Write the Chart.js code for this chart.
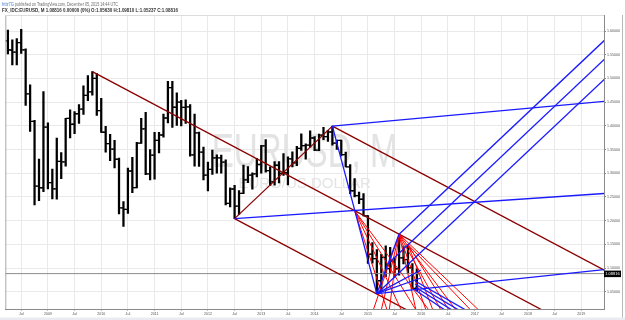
<!DOCTYPE html>
<html><head><meta charset="utf-8">
<script src="https://cdn.jsdelivr.net/npm/chart.js@4.4.1/dist/chart.umd.min.js"></script>
<style>html,body{margin:0;padding:0;background:#fff;overflow:hidden}canvas{display:block}</style>
</head><body>
<canvas id="c" width="625" height="320"></canvas>
<script>
// months counted from Jan 2008 = 0; first bar = Apr 2008
const firstBarMonth = 3;
const opens = [
 1.5790,1.5600,1.5553,1.5757,1.5602,1.4672,1.4092,1.2728,1.2693,
 1.3971,1.2800,1.2669,1.3248,1.3239,1.4155,1.4033,1.4255,1.4353,1.4641,1.4718,1.4999,
 1.4321,1.3864,1.3625,1.3510,1.3295,1.2268,1.2236,1.3047,1.2696,1.3634,1.3937,1.2984,
 1.3383,1.3692,1.3806,1.4165,1.4806,1.4392,1.4501,1.4391,1.4398,1.3387,1.3850,1.3446,
 1.2960,1.3080,1.3323,1.3322,1.3235,1.2365,1.2667,1.2304,1.2575,1.2859,1.2958,1.2985,
 1.3184,1.3578,1.3056,1.2818,1.3168,1.2997,1.3010,1.3302,1.3219,1.3525,1.3583,1.3593,
 1.3743,1.3486,1.3802,1.3772,1.3869,1.3633,1.3692,1.3390,1.3133,1.2630,1.2526,1.2451,
 1.2098,1.1290,1.1196,1.0731,1.1224,1.0987,1.1146,1.0984,1.1213,1.1177,1.1002,1.0563];
const highs = [
 1.6019,1.5816,1.5843,1.6038,1.5624,1.4867,1.4117,1.3300,1.4720,
 1.4063,1.3087,1.3739,1.3434,1.4156,1.4338,1.4301,1.4450,1.4844,1.5061,1.5144,1.5104,
 1.4579,1.3989,1.3818,1.3692,1.3321,1.2400,1.3106,1.3334,1.3650,1.4157,1.4282,1.3500,
 1.3860,1.3862,1.4249,1.4940,1.4939,1.4698,1.4540,1.4549,1.4448,1.4248,1.3868,1.3549,
 1.3233,1.3487,1.3386,1.3384,1.3284,1.2693,1.2744,1.2636,1.3173,1.3140,1.3010,1.3308,
 1.3586,1.3711,1.3134,1.3243,1.3243,1.3416,1.3346,1.3453,1.3568,1.3832,1.3620,1.3893,
 1.3775,1.3825,1.3967,1.3907,1.3993,1.3700,1.3700,1.3444,1.3184,1.2887,1.2600,1.2571,
 1.2105,1.1534,1.1387,1.1290,1.1467,1.1436,1.1216,1.1714,1.1460,1.1495,1.1095,1.0981];
const lows = [
 1.5516,1.5285,1.5285,1.5530,1.4432,1.3881,1.2330,1.2422,1.2611,
 1.2667,1.2457,1.2454,1.2885,1.3151,1.3746,1.3833,1.4048,1.4239,1.4532,1.4648,1.4218,
 1.3862,1.3443,1.3267,1.3114,1.2143,1.1876,1.2152,1.2588,1.2690,1.3627,1.2969,1.2860,
 1.2873,1.3430,1.3760,1.4059,1.3968,1.4010,1.4000,1.4053,1.3362,1.3146,1.3145,1.2856,
 1.2624,1.2975,1.3001,1.3000,1.2333,1.2287,1.2042,1.2132,1.2566,1.2802,1.2661,1.2923,
 1.3000,1.3021,1.2745,1.2750,1.2796,1.2951,1.2755,1.3135,1.3160,1.3482,1.3295,1.3549,
 1.3477,1.3478,1.3705,1.3673,1.3594,1.3503,1.3366,1.3131,1.2570,1.2500,1.2357,1.2097,
 1.1098,1.1100,1.0458,1.0520,1.0819,1.0886,1.0808,1.0847,1.1087,1.0896,1.0562,1.05237];
const closes = [
 1.5600,1.5553,1.5757,1.5602,1.4672,1.4092,1.2728,1.2693,1.3971,
 1.2800,1.2669,1.3248,1.3239,1.4155,1.4033,1.4255,1.4353,1.4641,1.4718,1.4999,1.4321,
 1.3864,1.3625,1.3510,1.3295,1.2268,1.2236,1.3047,1.2696,1.3634,1.3937,1.2984,1.3383,
 1.3692,1.3806,1.4165,1.4806,1.4392,1.4501,1.4391,1.4398,1.3387,1.3850,1.3446,1.2960,
 1.3080,1.3323,1.3322,1.3235,1.2365,1.2667,1.2304,1.2575,1.2859,1.2958,1.2985,1.3184,
 1.3578,1.3056,1.2818,1.3168,1.2997,1.3010,1.3302,1.3219,1.3525,1.3583,1.3593,1.3743,
 1.3486,1.3802,1.3772,1.3869,1.3633,1.3692,1.3390,1.3133,1.2630,1.2526,1.2451,1.2098,
 1.1290,1.1196,1.0731,1.1224,1.0987,1.1146,1.0984,1.1213,1.1177,1.1002,1.0567,1.08816];

const yTicks = [1.05,1.10,1.15,1.20,1.25,1.30,1.35,1.40,1.45,1.50,1.55,1.60];
const xTickMonths = [6,12,18,24,30,36,42,48,54,60,66,72,78,84,90,96,102,108,114,120,126,132];
const xTickLabels = ['Jul','2009','Jul','2010','Jul','2011','Jul','2012','Jul','2013','Jul','2014','Jul','2015','Jul','2016','Jul','2017','Jul','2018','Jul','2019'];
const lastPrice = 1.08816;

// drawn lines: [month1, price1, month2, price2]
const darkRedLines = [
 [22,1.5144,124,1.0074],
 [76,1.3993,137.5,1.0936],
 [54,1.2042,93,1.0103],
 [54,1.2042,76,1.3993]];
const blueLines = [
 [54,1.2042,137.5,1.2575],
 [76,1.3993,137.5,1.452],
 [76,1.3993,86,1.0458],
 [86,1.0458,91,1.1714],
 [91,1.1714,137.5,1.5830],
 [88.5,1.1090,137.5,1.5430],
 [86,1.0458,137.5,1.5010],
 [86,1.0458,137.5,1.097],
 [86,1.0458,95.9,1.0958],
 [86,1.0458,95.9,1.0789],
 [94.6,1.0726,106.0,1.0114],
 [94.6,1.0662,104.4,1.0114],
 [94.6,1.0599,102.9,1.0114],
 [94.6,1.0536,101.3,1.0114]];
const redLines = [
 [81,1.221,88.3,1.0114],[81,1.221,91.5,1.0114],[81,1.221,94.8,1.0114],[81,1.221,97.7,1.0114],
 [91,1.1714,94.8,1.0114],[91,1.1714,97.05,1.0114],[91,1.1714,100.4,1.0114],[91,1.1714,103.8,1.0114],[91,1.1714,108.9,1.0114],
 [91,1.1714,85.2,1.0114],[91,1.1714,87.0,1.0114],[91,1.1714,88.8,1.0114],
 [93,1.1495,98.6,1.0114],[93,1.1495,102.2,1.0114],[93,1.1495,107.1,1.0114]];

const header1a = 'fritz7G';
const header1b = ' published on TradingView.com, December 05, 2015 14:44 UTC';
const header2 = 'FX_IDC:EURUSD, M 1.08816 0.00000 (0%) O:1.05630 H:1.09810 L:1.05237 C:1.08816';
const watermark1 = 'EURUSD, M';
const watermark2 = 'EURO/US DOLLAR';

const FONT = "'Liberation Sans', Arial, sans-serif";
const months = opens.map((_, i) => firstBarMonth + i);

function segs(list, color, width, order) {
  return list.map(s => ({
    type: 'line',
    data: [{x: s[0], y: s[1]}, {x: s[2], y: s[3]}],
    borderColor: color, borderWidth: width, pointRadius: 0,
    fill: false, tension: 0, clip: 0, order
  }));
}

const datasets = [
  { type: 'bar', data: months.map((m, i) => ({x: m, y: [lows[i], highs[i]]})),
    backgroundColor: '#000', borderWidth: 0, barThickness: 1.6, order: 10, clip: 0 },
  { type: 'scatter', data: months.map((m, i) => ({x: m - 0.3, y: opens[i]})),
    pointStyle: 'line', pointRadius: 1.3, borderWidth: 1.3, borderColor: '#000', order: 9 },
  { type: 'scatter', data: months.map((m, i) => ({x: m + 0.3, y: closes[i]})),
    pointStyle: 'line', pointRadius: 1.3, borderWidth: 1.3, borderColor: '#000', order: 9 },
  { type: 'line', data: [{x: 0, y: lastPrice}, {x: 140, y: lastPrice}],
    borderColor: '#8c8c8c', borderWidth: 1, pointRadius: 0, clip: 0, order: 8 },
  ...segs(darkRedLines, '#8b0000', 1.3, 3),
  ...segs(redLines, '#ff0000', 1, 2),
  ...segs(blueLines, '#1a1aff', 1.3, 1)
];

const decor = {
  id: 'decor',
  beforeDraw(chart) {
    const ctx = chart.ctx;
    ctx.save();
    ctx.fillStyle = '#fff';
    ctx.fillRect(0, 0, chart.width, chart.height);
    ctx.restore();
  },
  beforeDatasetsDraw(chart) {
    const {ctx, chartArea: a} = chart;
    const cx = a.left + a.width / 2, cy = a.top + a.height / 2;
    ctx.save();
    ctx.fillStyle = '#e3e3e3';
    ctx.textAlign = 'center';
    ctx.textBaseline = 'alphabetic';
    ctx.font = '48px ' + FONT;
    ctx.fillText(watermark1, cx, cy + 5, 186);
    ctx.font = '15px ' + FONT;
    ctx.fillText(watermark2, cx, cy + 26, 155);
    ctx.restore();
  },
  afterDraw(chart) {
    const {ctx, chartArea: a} = chart;
    ctx.save();
    // left / top plot border
    ctx.strokeStyle = '#a8a8a8';
    ctx.lineWidth = 1;
    ctx.beginPath();
    ctx.moveTo(a.left + 0.5, a.top); ctx.lineTo(a.left + 0.5, a.bottom);
    ctx.stroke();
    ctx.strokeStyle = '#dcdcdc';
    ctx.beginPath();
    ctx.moveTo(a.left, a.top + 0.5); ctx.lineTo(a.right, a.top + 0.5);
    ctx.stroke();
    // outer frame
    ctx.fillStyle = '#e8ecf0';
    ctx.fillRect(0, chart.height - 2.5, chart.width, 2.5);
    ctx.strokeStyle = '#b8b8b8';
    ctx.beginPath();
    ctx.moveTo(chart.width - 2.5, a.top); ctx.lineTo(chart.width - 2.5, chart.height - 2.5);
    ctx.stroke();
    // header
    ctx.textAlign = 'left';
    ctx.textBaseline = 'alphabetic';
    ctx.font = '5px ' + FONT;
    ctx.fillStyle = '#3c7dd0';
    ctx.fillText(header1a, 2, 6.3, 12);
    ctx.fillStyle = '#6a6a6a';
    ctx.fillText(header1b, 14, 6.3, 104);
    ctx.font = 'bold 5px ' + FONT;
    ctx.fillStyle = '#333';
    ctx.fillText(header2, 2, 12.2, 176);
    // last price label
    const py = chart.scales.y.getPixelForValue(lastPrice);
    ctx.fillStyle = '#000';
    ctx.fillRect(a.right, py - 3, 17, 6.5);
    ctx.fillStyle = '#fff';
    ctx.font = '4px ' + FONT;
    ctx.textBaseline = 'middle';
    ctx.textAlign = 'center';
    ctx.fillText(lastPrice.toFixed(5), a.right + 8.5, py + 0.3, 15);
    ctx.restore();
  }
};

new Chart(document.getElementById('c'), {
  type: 'bar',
  data: { datasets },
  plugins: [decor],
  options: {
    responsive: false,
    animation: false,
    events: [],
    layout: { padding: { left: 2, top: 15, right: 0, bottom: 0 } },
    plugins: { legend: { display: false }, tooltip: { enabled: false }, title: { display: false } },
    scales: {
      x: {
        type: 'linear', min: 2.42, max: 137.1, offset: false,
        grid: { color: '#e9e9e9', tickColor: '#c0c0c0', tickLength: 2, offset: false },
        border: { color: '#8a8a8a' },
        afterBuildTicks: s => { s.ticks = xTickMonths.map(v => ({value: v})); },
        afterFit: s => { s.height = 11; },
        ticks: {
          autoSkip: false, maxRotation: 0, minRotation: 0, padding: 1,
          color: '#555', font: { size: 3.6, family: FONT },
          callback: v => xTickLabels[xTickMonths.indexOf(v)]
        }
      },
      y: {
        position: 'right', min: 1.0135, max: 1.6338,
        grid: { color: '#e9e9e9', tickColor: '#8a8a8a', tickLength: 2 },
        border: { color: '#8a8a8a' },
        afterBuildTicks: s => { s.ticks = yTicks.map(v => ({value: v})); },
        afterFit: s => { s.width = 21; },
        ticks: {
          padding: 1, color: '#555', font: { size: 3.6, family: FONT },
          callback: v => v.toFixed(5)
        }
      }
    }
  }
});
</script>
</body></html>
